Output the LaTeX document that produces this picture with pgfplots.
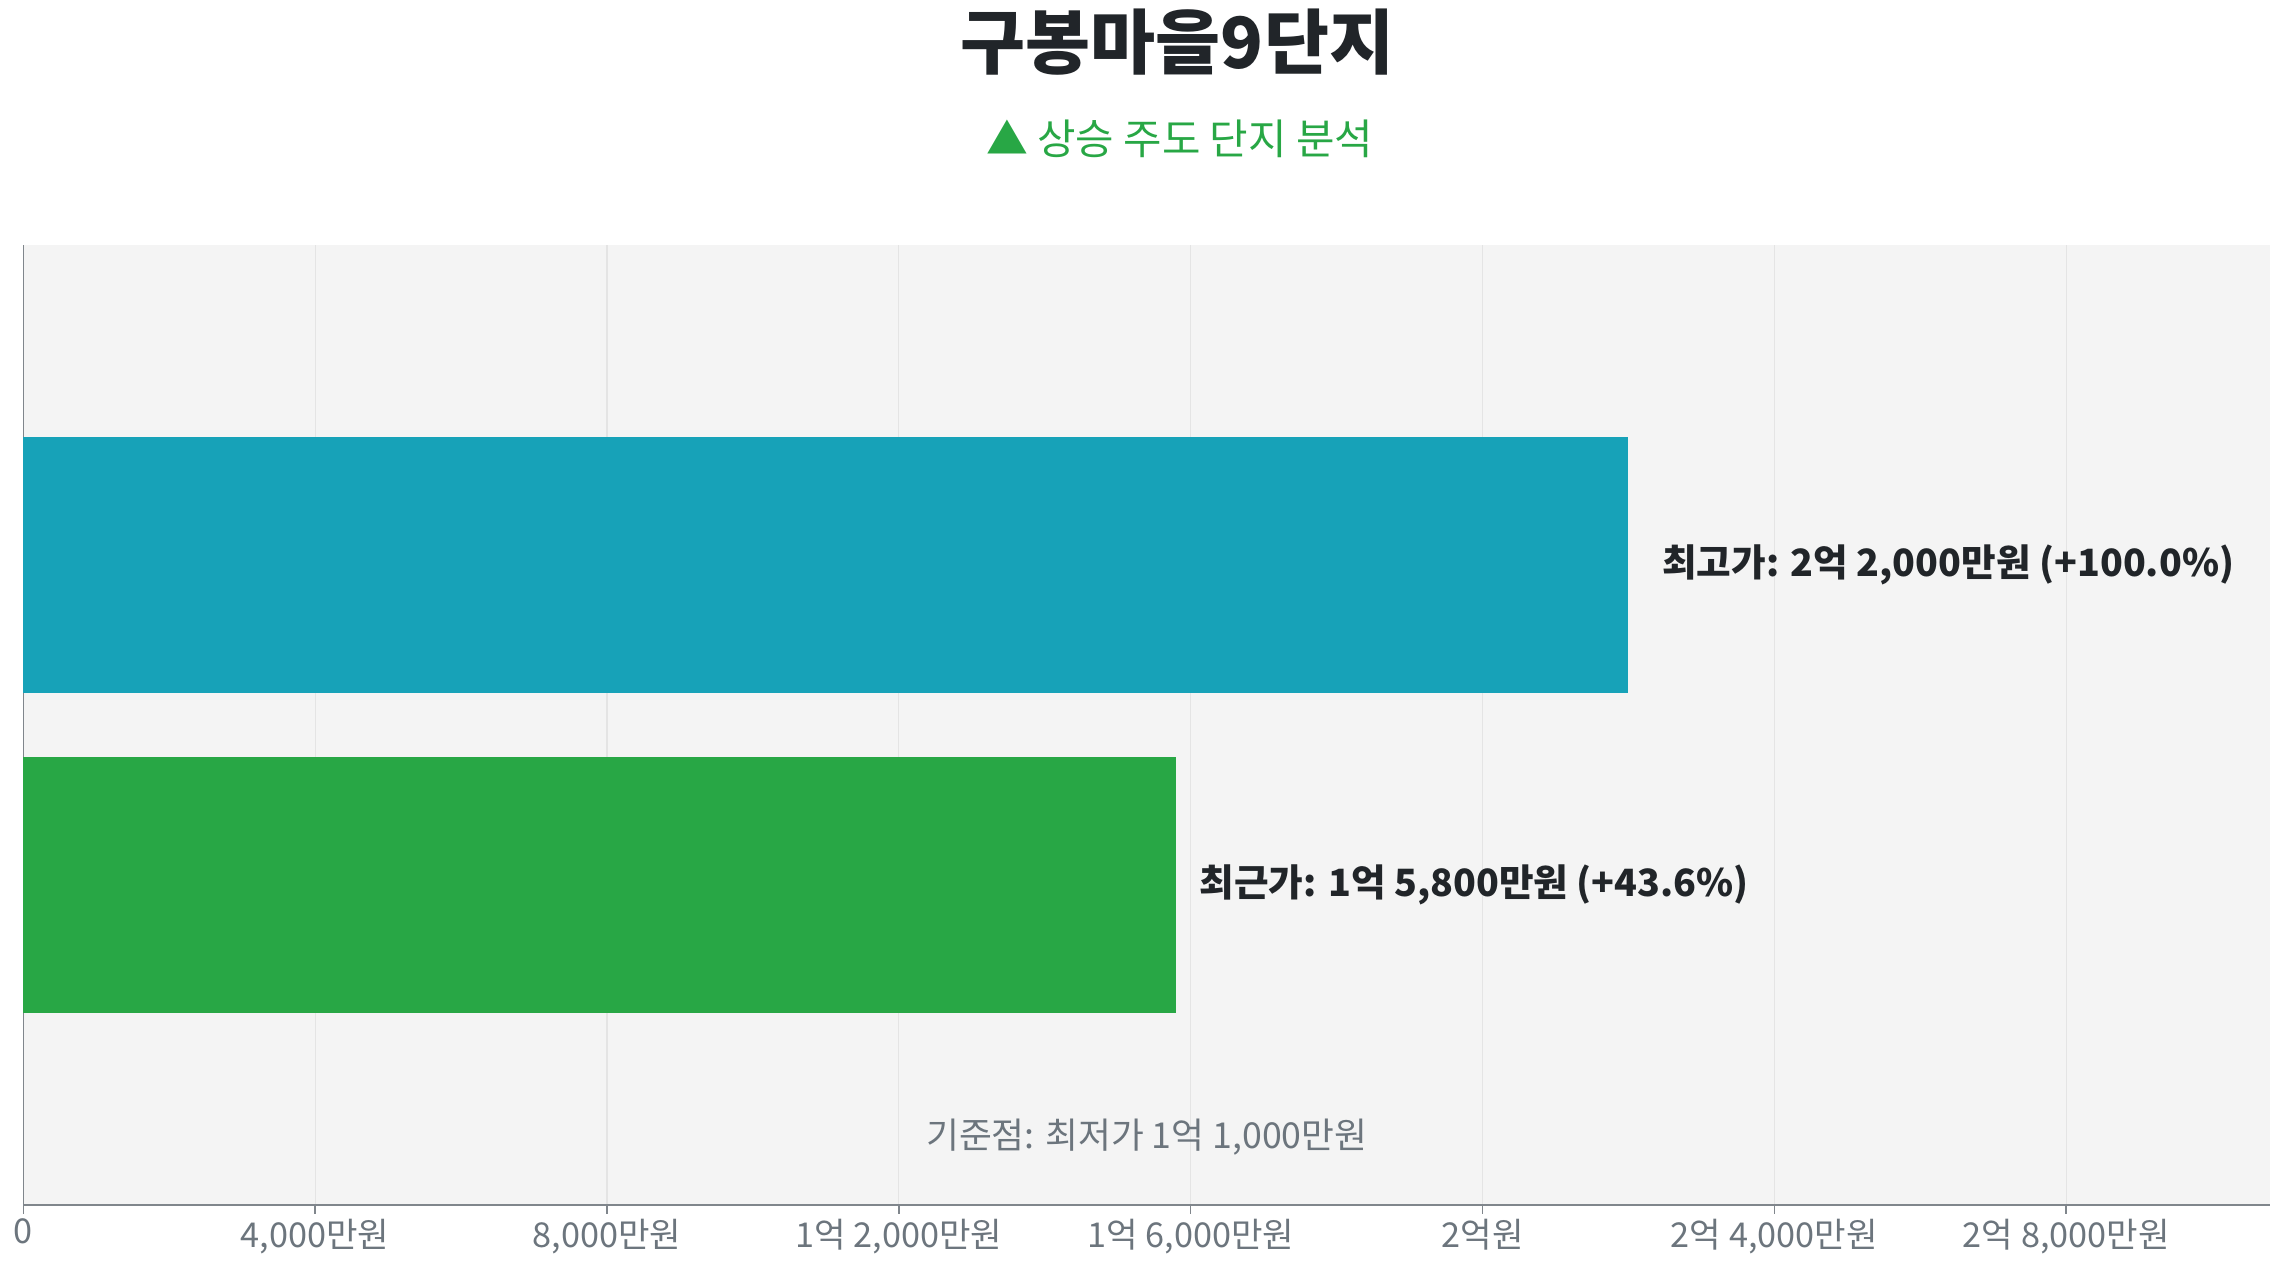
\documentclass[border=0pt]{standalone}
\usepackage{pgfplots}
\pgfplotsset{compat=1.18}
\usepackage{fontspec}
\setmainfont{Noto Sans CJK KR}
\definecolor{bg}{HTML}{F4F4F4}
\definecolor{gridc}{HTML}{E4E4E4}
\definecolor{teal}{HTML}{17A2B8}
\definecolor{grn}{HTML}{28A745}
\definecolor{dark}{HTML}{212529}
\definecolor{gray}{HTML}{6C757D}
\definecolor{axisc}{HTML}{80868C}
\begin{document}
\begin{tikzpicture}
\useasboundingbox (0,0) rectangle (1568pt,870pt);
\node[font=\fontsize{48.5}{52}\selectfont\bfseries, text=dark] at (808pt,841pt) {구봉마을9단지};
\node[font=\fontsize{28.7}{32}\selectfont, text=grn] at (809.5pt,775pt) {▲ 상승 주도 단지 분석};
\begin{axis}[
  at={(16pt,43pt)}, anchor=south west,
  scale only axis, width=1542pt, height=659pt,
  xmin=0, xmax=30800, ymin=-1, ymax=2,
  axis x line=bottom, axis y line=left,
  x axis line style={-, draw=axisc, line width=1.4pt},
  y axis line style={-, draw=axisc, line width=1pt},
  axis background/.style={fill=bg},
  scaled x ticks=false,
  xtick={0,4000,8000,12000,16000,20000,24000,28000},
  xticklabels={0,{4,000만원},{8,000만원},{1억 2,000만원},{1억 6,000만원},{2억원},{2억 4,000만원},{2억 8,000만원}},
  ytick=\empty,
  xmajorgrids, major grid style={draw=gridc, line width=0.8pt},
  major tick length=6pt,
  tick align=outside,
  x tick style={draw=axisc, line width=1pt},
  tick label style={font=\fontsize{23.5}{26}\selectfont, text=gray},
  /pgf/number format/assume math mode=true,
  xbar, bar width=176pt,
  clip=false,
]
\addplot[draw=none, fill=teal, bar shift=0pt] coordinates {(22000,1)};
\addplot[draw=none, fill=grn, bar shift=0pt] coordinates {(15800,0)};
\node[anchor=west, inner sep=0pt, font=\fontsize{25.8}{30}\selectfont\bfseries, text=dark, xshift=23pt] at (axis cs:22000,1) {최고가: 2억 2,000만원 (+100.0\%)};
\node[anchor=west, inner sep=0pt, font=\fontsize{25.8}{30}\selectfont\bfseries, text=dark, xshift=16pt] at (axis cs:15800,0) {최근가: 1억 5,800만원 (+43.6\%)};
\node[font=\fontsize{24.5}{28}\selectfont, text=gray] at (rel axis cs:0.5,0.0713) {기준점: 최저가 1억 1,000만원};
\end{axis}
\end{tikzpicture}
\end{document}
